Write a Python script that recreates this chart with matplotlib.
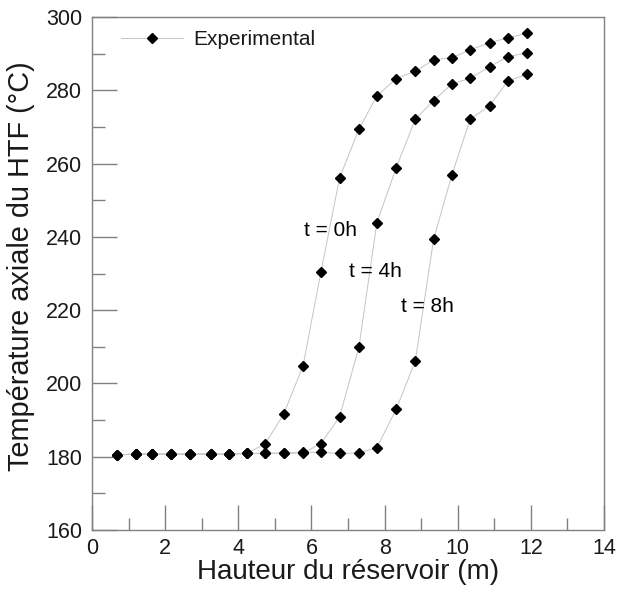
import matplotlib
matplotlib.use("Agg")
import matplotlib.pyplot as plt
from matplotlib.ticker import MultipleLocator

plt.rcParams['font.family'] = ['Liberation Sans', 'DejaVu Sans']

x_pos = [0.69, 1.19, 1.65, 2.17, 2.68, 3.25, 3.75, 4.23, 4.73, 5.24, 5.77,
         6.26, 6.77, 7.30, 7.79, 8.32, 8.84, 9.34, 9.84, 10.34, 10.87, 11.37, 11.90]

t0 = [180.5, 180.7, 180.7, 180.7, 180.7, 180.7, 180.7, 181.0, 183.4, 191.6, 204.8,
      230.4, 256.1, 269.4, 278.5, 283.2, 285.2, 288.3, 288.9, 291.0, 293.0, 294.3, 295.6]
t4 = [180.5, 180.7, 180.7, 180.7, 180.7, 180.7, 180.7, 180.9, 180.9, 181.0, 181.0,
      183.6, 190.9, 210.0, 243.9, 258.9, 272.1, 277.2, 281.7, 283.3, 286.4, 289.2, 290.2]
t8 = [180.5, 180.7, 180.7, 180.7, 180.7, 180.7, 180.7, 180.9, 180.9, 181.0, 181.2,
      181.2, 180.9, 181.0, 182.5, 193.0, 206.1, 239.3, 256.9, 272.1, 275.8, 282.5, 284.4]

labels = ["t = 0h", "t = 4h", "t = 8h"]
label_x = [6.51, 7.76, 9.18]
label_y = [241.6, 230.5, 220.9]

fig = plt.figure(figsize=(6.27, 5.97), dpi=100)
ax = fig.add_axes([92/627, 1-530/597, (604-92)/627, (530-17)/597])

line_kw = dict(color='#c4c4c4', lw=0.7, marker='D', markersize=5,
               markerfacecolor='black', markeredgecolor='black')
for i, ys in enumerate([t0, t4, t8]):
    ax.plot(x_pos, ys, label='Experimental' if i == 0 else None, **line_kw)

for lab, lx, ly in zip(labels, label_x, label_y):
    ax.text(lx, ly, lab, ha='center', va='center', fontsize=15)

ax.set_xlim(0, 14)
ax.set_ylim(160, 300)
ax.xaxis.set_major_locator(MultipleLocator(2))
ax.xaxis.set_minor_locator(MultipleLocator(1))
ax.yaxis.set_major_locator(MultipleLocator(20))
ax.yaxis.set_minor_locator(MultipleLocator(10))
ax.tick_params(which='both', direction='in', colors='#808080', labelcolor='#1a1a1a',
               labelsize=15.5, top=False, right=False)
ax.tick_params(which='major', length=18, width=1)
ax.tick_params(which='minor', length=9, width=1)
ax.tick_params(axis='x', which='major', pad=6)
ax.tick_params(axis='y', which='major', pad=7)
for s in ax.spines.values():
    s.set_color('#808080')
    s.set_linewidth(1)

ax.set_xlabel('Hauteur du réservoir (m)', fontsize=20, labelpad=0, color='#1a1a1a')
ax.set_ylabel('Température axiale du HTF (°C)', fontsize=20.8, color='#1a1a1a')
ax.yaxis.set_label_coords(-0.112, 0.515)

leg = ax.legend(loc='upper left', frameon=False, fontsize=15, handlelength=3.0,
                handletextpad=0.5, borderaxespad=0.0, bbox_to_anchor=(0.04, 0.99))
for t in leg.get_texts():
    t.set_color('#1a1a1a')

fig.savefig('out.png', dpi=100)
